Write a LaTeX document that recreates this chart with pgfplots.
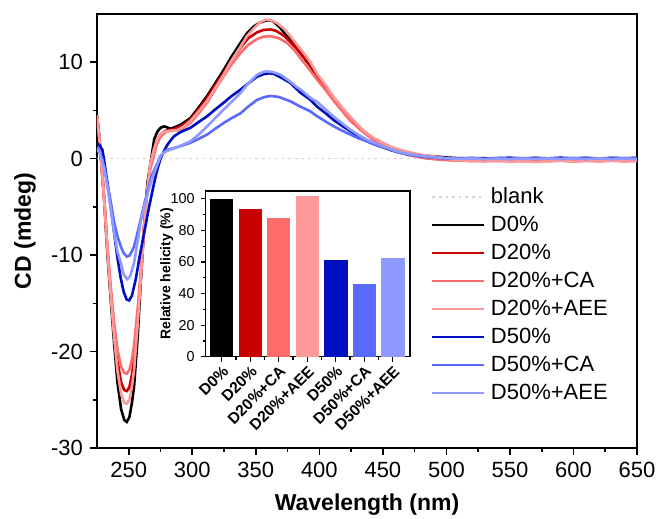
\documentclass[border=0pt]{standalone}
\usepackage{pgfplots}
\pgfplotsset{compat=1.18}
\usepackage{fontspec}
\setmainfont{Liberation Sans}
\definecolor{cD0}{RGB}{0,0,0}
\definecolor{cD20}{RGB}{200,0,0}
\definecolor{cD20CA}{RGB}{255,107,107}
\definecolor{cD20AEE}{RGB}{255,153,153}
\definecolor{cD50}{RGB}{0,16,192}
\definecolor{cD50CA}{RGB}{90,106,255}
\definecolor{cD50AEE}{RGB}{142,154,255}
\begin{document}
\begin{tikzpicture}
\path[use as bounding box] (-48.5pt,-35.5pt) rectangle (281pt,224pt);
\begin{axis}[
  at={(0pt,0pt)}, anchor=south west,
  width=270pt, height=217pt, scale only axis,
  xmin=225, xmax=650, ymin=-30, ymax=15,
  xtick={250,300,...,650}, ytick={-30,-20,...,10},
  minor x tick num=1, minor y tick num=1,
  tick align=outside, tick pos=left,
  major tick length=3.5pt, minor tick length=2pt,
  axis line style={line width=0.8pt},
  every tick/.style={black, line width=0.8pt},
  /pgf/number format/assume math mode=true,
  ticklabel style={font=\fontsize{11}{13}\selectfont},
  xlabel={\bfseries Wavelength (nm)},
  ylabel={\bfseries CD (mdeg)},
  label style={font=\fontsize{11.5}{13}\selectfont},
  xlabel style={at={(axis description cs:0.5,0)}, anchor=center, yshift=-28.5pt},
  ylabel style={at={(axis description cs:-0.1333,0.5)}, anchor=center},
  legend style={at={(0.618,0.607)}, anchor=north west, draw=none, fill=none, inner sep=0pt,
    font=\fontsize{11}{13}\selectfont, row sep=2pt,
    nodes={inner xsep=3pt, inner ysep=1pt, text height=8.2pt, text depth=1.8pt}},
  legend cell align=left,
  legend image code/.code={\draw[#1] (0cm,0cm) -- (0.9cm,0cm);},
  every axis plot/.append style={line width=1.3pt},
]
\addplot[gray!35, dotted, line width=0.8pt] coordinates {(225,0) (650,0)};
\addlegendentry{blank}
% D0%
\addplot[cD0] coordinates {(225,4.5) (227,2.0) (230.6,-4.2) (233,-9.5) (235.8,-14.6) (238.5,-19.2) (241.1,-23.2) (244,-26) (246.5,-27.1) (248.4,-27.3) (250.5,-26.8) (252.5,-25.3) (254.2,-23.6) (257,-18.5) (259.4,-12.9) (262,-7.3) (264.7,-2.5) (267,-0.6) (270,2.0) (272.5,2.8) (275,3.2) (277.8,3.35) (280,3.25) (283,3.1) (287,3.3) (290.7,3.5) (294,3.8) (298.5,4.2) (305,5.3) (311.7,6.5) (318,7.8) (324.7,9.2) (331,10.6) (337.9,12.0) (343,13.0) (348.3,13.7) (353,14.1) (357.5,14.3) (361,14.35) (364,14.2) (369,13.6) (374.6,12.7) (380,11.8) (385,10.95) (393,9.6) (398.2,8.5) (405,7.3) (411.3,6.1) (418,5.0) (424.4,4.0) (431,3.2) (437.6,2.5) (444,1.9) (450.6,1.45) (457,1.05) (463.8,0.76) (470,0.55) (476.9,0.41) (483,0.3) (490,0.24) (500,0.12) (510,0.05) (520,0.02) (530,0.05) (540,-0.05) (550,0.03) (560,0.0) (570,0.06) (580,-0.02) (590,0.04) (600,0.0) (610,0.05) (620,-0.03) (630,0.06) (640,0.02) (650,0.05)};
\addlegendentry{D0\%}
% D20%
\addplot[cD20] coordinates {(225,4.4) (227,2.0) (230.6,-4.0) (233,-9.0) (235.8,-13.8) (238.5,-17.8) (241.1,-21.0) (244,-23.2) (246.5,-24.0) (248.5,-24.1) (250.5,-23.7) (252.5,-22.4) (254.2,-20.8) (257,-16.5) (259.4,-12.3) (262,-7.2) (264.7,-3.0) (267,-0.8) (270,1.0) (273.6,2.0) (277,2.7) (280.2,2.95) (284,3.0) (288,3.2) (293,3.5) (298.5,4.05) (305,5.1) (311.7,6.3) (318,7.6) (324.7,8.9) (331,10.2) (337.9,11.5) (344,12.5) (351,13.1) (356,13.35) (361.5,13.4) (366,13.25) (372,12.75) (378,12.0) (385,11.0) (393,9.7) (398.2,8.6) (405,7.4) (411.3,6.1) (418,5.0) (424.4,4.0) (431,3.2) (437.6,2.5) (444,1.85) (450.6,1.35) (457,0.95) (463.8,0.65) (470,0.4) (476.9,0.25) (483,0.1) (490,0.0) (500,-0.1) (510,-0.15) (520,-0.2) (530,-0.12) (540,-0.22) (550,-0.15) (560,-0.2) (570,-0.1) (580,-0.18) (590,-0.12) (600,-0.2) (610,-0.1) (620,-0.18) (630,-0.12) (640,-0.2) (650,-0.15)};
\addlegendentry{D20\%}
% D20%+CA
\addplot[cD20CA] coordinates {(225,4.3) (227,1.8) (230.6,-4.0) (233,-8.8) (235.8,-13.3) (238.5,-17.0) (241.1,-19.8) (244,-21.6) (246.5,-22.2) (248.5,-22.3) (250.5,-21.9) (252.5,-20.8) (254.2,-19.3) (257,-15.5) (259.4,-11.8) (262,-7.0) (264.7,-3.2) (267,-1.0) (269.7,0.25) (272,1.5) (275,2.3) (280.2,2.85) (285,2.9) (290.7,3.0) (294,3.3) (298.5,3.7) (305,4.7) (311.7,5.8) (318,7.2) (324.7,8.55) (331,9.8) (337.9,10.95) (344,11.8) (351,12.4) (356,12.65) (361.5,12.7) (368,12.5) (374.6,12.0) (380,11.3) (385,10.45) (393,9.1) (398.2,8.2) (405,7.1) (411.3,6.0) (418,4.95) (424.4,3.95) (431,3.15) (437.6,2.45) (444,1.85) (450.6,1.35) (457,0.95) (463.8,0.65) (470,0.4) (476.9,0.2) (483,0.05) (490,-0.05) (500,-0.15) (510,-0.2) (520,-0.25) (530,-0.18) (540,-0.25) (550,-0.2) (560,-0.28) (570,-0.18) (580,-0.25) (590,-0.2) (600,-0.27) (610,-0.18) (620,-0.25) (630,-0.2) (640,-0.26) (650,-0.2)};
\addlegendentry{D20\%+CA}
% D20%+AEE
\addplot[cD20AEE] coordinates {(225,4.5) (227,2.0) (230.6,-4.1) (233,-9.2) (235.8,-14.2) (238.5,-18.5) (241.1,-22.0) (244,-24.4) (246.5,-25.3) (248.5,-25.4) (250.5,-25.0) (252.5,-23.6) (254.2,-21.9) (257,-17.2) (259.4,-12.6) (262,-7.4) (264.7,-3.0) (267,-0.5) (269.7,0.9) (272,1.9) (275,2.6) (280.2,2.85) (284,2.9) (288,2.95) (293,3.3) (298.5,3.9) (305,4.9) (311.7,6.0) (318,7.3) (324.7,8.7) (331,10.2) (337.9,11.6) (343,12.7) (348.3,13.5) (353,14.1) (357.5,14.4) (362,14.35) (366.8,14.05) (372,13.5) (377.2,12.7) (382,11.9) (387.7,10.95) (393,10.0) (398.2,8.8) (405,7.6) (411.3,6.4) (418,5.3) (424.4,4.35) (431,3.4) (437.6,2.6) (444,2.05) (450.6,1.6) (457,1.2) (463.8,0.9) (470,0.7) (476.9,0.5) (483,0.35) (490,0.24) (500,0.0) (510,-0.15) (520,-0.25) (530,-0.3) (540,-0.22) (550,-0.32) (560,-0.25) (570,-0.35) (580,-0.28) (590,-0.22) (600,-0.32) (610,-0.25) (620,-0.3) (630,-0.22) (640,-0.3) (650,-0.25)};
\addlegendentry{D20\%+AEE}
% D50%
\addplot[cD50] coordinates {(225,1.6) (227,1.4) (229.3,0.9) (231,-0.5) (233.2,-2.5) (236,-5.2) (238.5,-7.7) (241,-10.2) (243.7,-12.4) (246,-13.8) (248.3,-14.6) (250.3,-14.7) (252.5,-14.2) (255.5,-12.5) (258.5,-10.2) (262.1,-7.7) (266,-5.0) (270,-2.5) (272.3,-1.2) (275,0.0) (277.8,0.8) (280.2,1.4) (283,1.9) (285.4,2.3) (290,2.7) (294,2.95) (298.5,3.2) (305,3.8) (311.7,4.4) (318,5.1) (324.7,5.8) (331,6.5) (337.9,7.15) (344,7.8) (351,8.5) (356,8.75) (360,8.85) (364,8.8) (370,8.4) (377.2,7.85) (385,6.85) (393,6.1) (398.2,5.4) (405,4.7) (411.3,4.0) (418,3.4) (424.4,2.85) (431,2.3) (437.6,1.8) (444,1.45) (450.6,1.15) (457,0.85) (463.8,0.6) (470,0.45) (476.9,0.3) (483,0.2) (490,0.12) (500,0.05) (510,0.02) (520,0.08) (530,0.0) (540,0.06) (550,0.1) (560,0.02) (570,0.08) (580,0.03) (590,0.1) (600,0.04) (610,0.09) (620,0.02) (630,0.08) (640,0.05) (650,0.08)};
\addlegendentry{D50\%}
% D50%+CA
\addplot[cD50CA] coordinates {(225,1.2) (227,0.7) (229,0.0) (231,-1.0) (233,-2.5) (236,-4.6) (238.5,-6.6) (241,-8.0) (243.7,-9.1) (246,-9.8) (248.5,-10.15) (250.5,-10.05) (252.5,-9.6) (254.2,-9.1) (256.5,-7.9) (259.4,-6.3) (262,-4.8) (264.7,-3.4) (268,-1.8) (272.6,-0.45) (275,0.3) (280.2,0.9) (283,1.0) (290.7,1.3) (298.5,1.65) (305,2.05) (311.7,2.5) (318,3.1) (324.7,3.7) (331,4.2) (337.9,4.7) (344,5.4) (351,6.1) (357,6.4) (362,6.5) (368,6.4) (377.2,5.95) (385,5.4) (393,4.9) (398.2,4.4) (405,3.85) (411.3,3.35) (418,2.9) (424.4,2.5) (431,2.1) (437.6,1.8) (444,1.45) (450.6,1.2) (457,0.9) (463.8,0.6) (470,0.45) (476.9,0.3) (483,0.2) (490,0.1) (500,0.05) (510,0.0) (520,0.04) (530,-0.03) (540,0.05) (550,0.0) (560,0.06) (570,-0.02) (580,0.04) (590,0.0) (600,0.05) (610,-0.02) (620,0.04) (630,0.0) (640,0.05) (650,0.0)};
\addlegendentry{D50\%+CA}
% D50%+AEE
\addplot[cD50AEE] coordinates {(225,1.0) (227,0.6) (229,-0.2) (231,-1.3) (233,-2.8) (236,-5.3) (238.5,-7.7) (241,-9.6) (243.7,-10.8) (246,-12.0) (248.7,-12.5) (251,-12.2) (254.2,-10.8) (256.5,-8.9) (259.4,-6.6) (262,-5.0) (264.7,-3.7) (268,-2.2) (272,-0.8) (275,0.25) (278,0.7) (282.8,0.93) (290,1.3) (298.5,1.8) (305,2.5) (311.7,3.35) (318,4.2) (324.7,5.1) (331,5.9) (337.9,6.8) (344,7.8) (351,8.7) (356,9.0) (359,9.05) (364,8.95) (369.4,8.7) (376,8.1) (382.5,7.4) (385,7.2) (393,6.3) (398.2,5.9) (405,5.1) (411.3,4.35) (418,3.65) (424.4,3.0) (431,2.45) (437.6,1.95) (444,1.6) (450.6,1.25) (457,0.95) (463.8,0.65) (470,0.5) (476.9,0.35) (483,0.25) (490,0.15) (500,0.05) (510,-0.02) (520,0.02) (530,-0.05) (540,0.0) (550,-0.06) (560,0.0) (570,-0.04) (580,0.02) (590,-0.05) (600,0.0) (610,-0.04) (620,0.02) (630,-0.05) (640,0.0) (650,-0.04)};
\addlegendentry{D50\%+AEE}
\end{axis}
% inset
\begin{axis}[
  at={(54.35pt,45.65pt)}, anchor=south west,
  width=102.15pt, height=82.85pt, scale only axis,
  xmin=-0.56, xmax=6.6, ymin=0, ymax=105,
  ytick={0,20,...,100}, minor y tick num=1,
  xtick={0,...,6}, minor x tick num=1,
  xticklabels={D0\%,D20\%,D20\%+CA,D20\%+AEE,D50\%,D50\%+CA,D50\%+AEE},
  tick align=outside, tick pos=left,
  major tick length=2.5pt, minor tick length=1.5pt,
  axis line style={line width=0.8pt},
  every tick/.style={black, line width=0.6pt},
  /pgf/number format/assume math mode=true,
  yticklabel style={font=\fontsize{7.2}{8}\selectfont, xshift=0.5pt},
  xticklabel style={font=\fontsize{7.8}{8}\selectfont\bfseries, rotate=45, anchor=north east, inner sep=1pt},
  ylabel={\bfseries Relative helicity (\%)},
  ylabel style={font=\fontsize{7}{8}\selectfont, at={(axis description cs:-0.1909,0.5)}, anchor=center},
]
\addplot[ybar, bar width=0.82, fill=cD0, draw=none] coordinates {(0,100)};
\addplot[ybar, bar width=0.82, fill=cD20, draw=none] coordinates {(1,93.7)};
\addplot[ybar, bar width=0.82, fill=cD20CA, draw=none] coordinates {(2,88.0)};
\addplot[ybar, bar width=0.82, fill=cD20AEE, draw=none] coordinates {(3,101.7)};
\addplot[ybar, bar width=0.82, fill=cD50, draw=none] coordinates {(4,61.1)};
\addplot[ybar, bar width=0.82, fill=cD50CA, draw=none] coordinates {(5,45.9)};
\addplot[ybar, bar width=0.82, fill=cD50AEE, draw=none] coordinates {(6,62.6)};
\end{axis}
\end{tikzpicture}
\end{document}
